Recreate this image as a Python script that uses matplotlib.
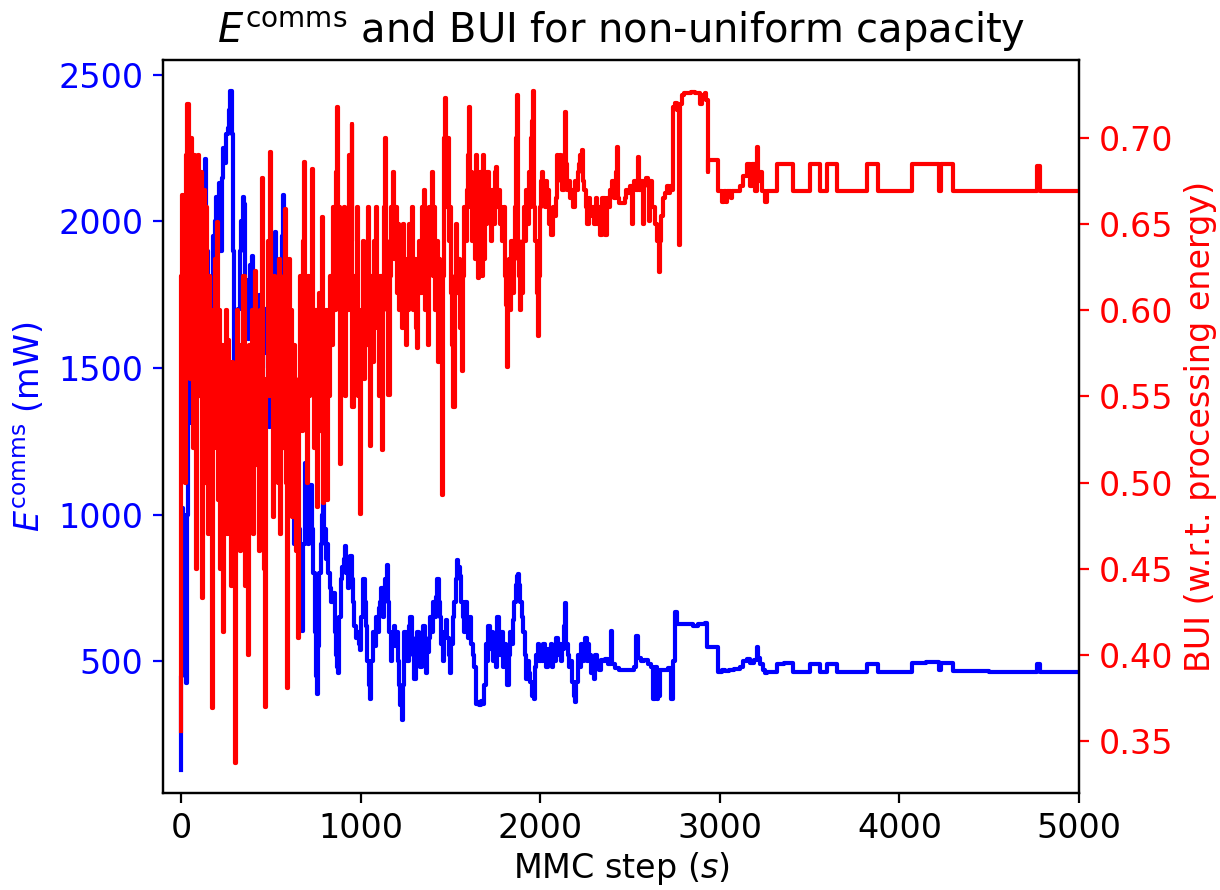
import matplotlib
matplotlib.use("Agg")
import matplotlib.pyplot as plt

# ---- data ----
bui_steps = [
    0, 3, 6, 12, 18, 24, 30, 36, 42, 48,
    54, 60, 66, 72, 78, 84, 90, 96, 102, 108,
    115, 122, 128, 134, 140, 146, 152, 158, 164, 171,
    178, 185, 192, 199, 206, 213, 220, 227, 235, 242,
    249, 256, 263, 270, 277, 284, 292, 301, 308, 314,
    320, 327, 334, 341, 348, 355, 362, 367, 373, 380,
    387, 394, 401, 408, 412, 420, 427, 434, 441, 449,
    455, 462, 468, 475, 482, 489, 496, 503, 510, 517,
    524, 531, 538, 545, 552, 559, 566, 573, 579, 585,
    588, 594, 600, 607, 614, 621, 628, 635, 642, 651,
    658, 665, 672, 679, 686, 693, 700, 707, 714, 720,
    727, 734, 741, 748, 755, 762, 769, 776, 783, 791,
    798, 805, 811, 818, 825, 832, 840, 848, 855, 862,
    867, 873, 880, 885, 892, 899, 906, 913, 920, 928,
    936, 943, 950, 955, 962, 970, 978, 985, 992, 997,
    1004, 1011, 1018, 1025, 1032, 1040, 1046, 1052, 1058, 1065,
    1072, 1079, 1086, 1093, 1100, 1108, 1117, 1124, 1130, 1136,
    1142, 1149, 1155, 1162, 1168, 1175, 1181, 1188, 1195, 1202,
    1209, 1216, 1223, 1230, 1237, 1244, 1251, 1258, 1265, 1272,
    1279, 1286, 1293, 1300, 1306, 1312, 1319, 1326, 1333, 1340,
    1347, 1354, 1361, 1368, 1375, 1382, 1389, 1396, 1403, 1410,
    1417, 1424, 1431, 1438, 1445, 1451, 1457, 1464, 1470, 1477,
    1484, 1491, 1498, 1505, 1511, 1516, 1523, 1530, 1537, 1544,
    1551, 1557, 1563, 1570, 1577, 1584, 1590, 1596, 1602, 1609,
    1616, 1623, 1630, 1637, 1644, 1650, 1654, 1660, 1667, 1674,
    1680, 1686, 1692, 1699, 1706, 1713, 1720, 1727, 1734, 1741,
    1748, 1755, 1762, 1769, 1776, 1783, 1790, 1797, 1804, 1810,
    1816, 1822, 1828, 1834, 1840, 1846, 1852, 1858, 1863, 1869,
    1875, 1881, 1887, 1893, 1899, 1905, 1911, 1917, 1923, 1929,
    1935, 1941, 1948, 1955, 1961, 1967, 1973, 1980, 1988, 1994,
    2000, 2006, 2012, 2018, 2025, 2032, 2040, 2048, 2056, 2063,
    2070, 2078, 2086, 2093, 2100, 2108, 2116, 2124, 2131, 2138,
    2145, 2152, 2160, 2168, 2176, 2184, 2192, 2200, 2208, 2216,
    2224, 2231, 2238, 2246, 2254, 2262, 2270, 2278, 2286, 2294,
    2302, 2310, 2318, 2326, 2334, 2345, 2361, 2370, 2380, 2390,
    2400, 2410, 2420, 2426, 2432, 2440, 2455, 2470, 2480, 2490,
    2500, 2509, 2515, 2525, 2535, 2545, 2552, 2560, 2570, 2578,
    2588, 2598, 2605, 2612, 2625, 2640, 2652, 2661, 2668, 2675,
    2685, 2695, 2705, 2715, 2725, 2735, 2741, 2750, 2760, 2768,
    2773, 2779, 2788, 2800, 2820, 2840, 2860, 2880, 2890, 2900,
    2915, 2925, 2930, 2932, 2935, 2990, 2992, 3015, 3022, 3035,
    3042, 3060, 3068, 3110, 3130, 3150, 3168, 3180, 3195, 3205,
    3215, 3225, 3235, 3250, 3262, 3317, 3410, 3502, 3560, 3595,
    3655, 3818, 3883, 4068, 4222, 4232, 4300, 4764, 4783, 5000,
]
bui_values = [
    0.356, 0.62, 0.667, 0.55, 0.66, 0.50, 0.69, 0.72, 0.68, 0.56,
    0.70, 0.66, 0.52, 0.69, 0.60, 0.45, 0.66, 0.69, 0.55, 0.68,
    0.433, 0.62, 0.67, 0.50, 0.66, 0.58, 0.47, 0.62, 0.56, 0.369,
    0.60, 0.52, 0.63, 0.651, 0.49, 0.60, 0.45, 0.58, 0.413, 0.55,
    0.60, 0.47, 0.583, 0.50, 0.44, 0.57, 0.48, 0.337, 0.52, 0.60,
    0.544, 0.46, 0.58, 0.50, 0.62, 0.44, 0.55, 0.48, 0.40, 0.58,
    0.52, 0.60, 0.47, 0.59, 0.623, 0.51, 0.58, 0.46, 0.60, 0.677,
    0.55, 0.45, 0.370, 0.56, 0.64, 0.55, 0.692, 0.58, 0.48, 0.62,
    0.53, 0.60, 0.50, 0.63, 0.47, 0.57, 0.52, 0.62, 0.659, 0.50,
    0.381, 0.55, 0.63, 0.52, 0.60, 0.48, 0.58, 0.54, 0.46, 0.41,
    0.56, 0.62, 0.53, 0.64, 0.686, 0.57, 0.50, 0.62, 0.55, 0.60,
    0.682, 0.58, 0.52, 0.60, 0.486, 0.56, 0.61, 0.53, 0.654, 0.488,
    0.57, 0.60, 0.49, 0.58, 0.55, 0.62, 0.58, 0.66, 0.60, 0.68,
    0.718, 0.62, 0.66, 0.511, 0.63, 0.59, 0.66, 0.55, 0.65, 0.60,
    0.69, 0.64, 0.708, 0.544, 0.62, 0.58, 0.66, 0.55, 0.60, 0.482,
    0.59, 0.64, 0.56, 0.63, 0.58, 0.66, 0.60, 0.521, 0.62, 0.57,
    0.64, 0.60, 0.66, 0.59, 0.55, 0.62, 0.519, 0.61, 0.66, 0.70,
    0.64, 0.60, 0.551, 0.62, 0.66, 0.64, 0.68, 0.63, 0.66, 0.61,
    0.65, 0.60, 0.64, 0.59, 0.65, 0.62, 0.58, 0.63, 0.60, 0.65,
    0.61, 0.66, 0.60, 0.63, 0.59, 0.578, 0.62, 0.64, 0.61, 0.66,
    0.62, 0.67, 0.60, 0.65, 0.58, 0.66, 0.64, 0.68, 0.62, 0.66,
    0.60, 0.64, 0.57, 0.63, 0.60, 0.493, 0.62, 0.70, 0.723, 0.66,
    0.70, 0.64, 0.66, 0.61, 0.58, 0.544, 0.62, 0.65, 0.61, 0.63,
    0.59, 0.61, 0.565, 0.62, 0.66, 0.64, 0.67, 0.69, 0.718, 0.66,
    0.68, 0.64, 0.67, 0.63, 0.69, 0.66, 0.619, 0.65, 0.68, 0.62,
    0.69, 0.63, 0.67, 0.65, 0.68, 0.66, 0.67, 0.64, 0.67, 0.65,
    0.68, 0.683, 0.66, 0.67, 0.65, 0.66, 0.64, 0.66, 0.62, 0.603,
    0.567, 0.61, 0.63, 0.60, 0.64, 0.61, 0.63, 0.66, 0.70, 0.725,
    0.64, 0.62, 0.60, 0.63, 0.61, 0.64, 0.66, 0.64, 0.67, 0.65,
    0.68, 0.66, 0.70, 0.71, 0.7275, 0.66, 0.64, 0.61, 0.585, 0.62,
    0.66, 0.675, 0.68, 0.67, 0.66, 0.675, 0.67, 0.65, 0.655, 0.644,
    0.66, 0.655, 0.665, 0.69, 0.688, 0.69, 0.675, 0.67, 0.69, 0.715,
    0.685, 0.67, 0.675, 0.665, 0.67, 0.66, 0.675, 0.67, 0.68, 0.685,
    0.69, 0.693, 0.675, 0.67, 0.66, 0.65, 0.665, 0.66, 0.655, 0.66,
    0.65, 0.665, 0.65, 0.66, 0.644, 0.665, 0.644, 0.665, 0.66, 0.67,
    0.675, 0.665, 0.68, 0.695, 0.665, 0.662, 0.662, 0.665, 0.67, 0.668,
    0.672, 0.65, 0.67, 0.675, 0.67, 0.689, 0.67, 0.675, 0.65, 0.675,
    0.677, 0.672, 0.652, 0.675, 0.66, 0.65, 0.64, 0.622, 0.64, 0.655,
    0.665, 0.668, 0.672, 0.668, 0.672, 0.67, 0.718, 0.7206, 0.716, 0.72,
    0.638, 0.72, 0.725, 0.726, 0.726, 0.727, 0.726, 0.726, 0.72, 0.725,
    0.726, 0.722, 0.722, 0.68, 0.687, 0.687, 0.669, 0.663, 0.669, 0.663,
    0.669, 0.665, 0.669, 0.672, 0.678, 0.685, 0.672, 0.685, 0.669, 0.695,
    0.675, 0.68, 0.669, 0.663, 0.669, 0.685, 0.669, 0.685, 0.669, 0.685,
    0.669, 0.685, 0.669, 0.685, 0.669, 0.685, 0.669, 0.684, 0.669, 0.669,
]

ecomms_steps = [
    0, 3, 8, 14, 20, 26, 32, 38, 44, 50,
    56, 62, 70, 78, 86, 94, 100, 108, 118, 126,
    134, 140, 148, 156, 164, 172, 180, 188, 196, 204,
    212, 220, 228, 236, 244, 252, 260, 268, 275, 282,
    288, 294, 300, 306, 312, 320, 328, 336, 344, 351,
    358, 365, 372, 380, 387, 394, 402, 410, 418, 426,
    434, 442, 450, 458, 466, 474, 482, 490, 498, 506,
    514, 523, 530, 538, 546, 554, 562, 568, 575, 582,
    590, 598, 606, 614, 622, 630, 638, 646, 654, 662,
    672, 680, 690, 697, 705, 713, 720, 728, 736, 744,
    750, 755, 762, 770, 778, 785, 791, 798, 805, 812,
    820, 828, 836, 847, 855, 862, 868, 875, 882, 890,
    898, 906, 913, 920, 928, 935, 942, 950, 958, 966,
    974, 982, 990, 997, 1004, 1014, 1022, 1030, 1038, 1046,
    1052, 1060, 1068, 1076, 1084, 1092, 1100, 1108, 1116, 1124,
    1132, 1138, 1145, 1152, 1160, 1168, 1176, 1184, 1192, 1200,
    1208, 1215, 1222, 1229, 1236, 1244, 1252, 1260, 1268, 1276,
    1284, 1292, 1300, 1308, 1316, 1324, 1332, 1340, 1348, 1356,
    1364, 1372, 1380, 1388, 1396, 1404, 1412, 1420, 1426, 1434,
    1442, 1450, 1458, 1466, 1474, 1482, 1490, 1498, 1506, 1514,
    1522, 1530, 1536, 1544, 1552, 1560, 1568, 1576, 1584, 1592,
    1600, 1608, 1616, 1624, 1632, 1640, 1650, 1660, 1670, 1680,
    1688, 1696, 1704, 1712, 1720, 1728, 1736, 1744, 1752, 1760,
    1768, 1776, 1784, 1792, 1800, 1808, 1816, 1824, 1832, 1840,
    1848, 1856, 1864, 1870, 1876, 1882, 1890, 1898, 1906, 1914,
    1922, 1930, 1938, 1946, 1955, 1963, 1970, 1978, 1986, 1994,
    2002, 2010, 2018, 2026, 2034, 2042, 2050, 2058, 2066, 2074,
    2082, 2090, 2098, 2106, 2114, 2122, 2130, 2138, 2146, 2154,
    2162, 2170, 2178, 2186, 2194, 2202, 2210, 2218, 2226, 2234,
    2242, 2250, 2258, 2266, 2274, 2282, 2290, 2298, 2306, 2314,
    2322, 2330, 2340, 2352, 2361, 2380, 2392, 2402, 2415, 2440,
    2470, 2500, 2520, 2535, 2545, 2560, 2580, 2600, 2615, 2630,
    2640, 2648, 2658, 2665, 2690, 2710, 2728, 2738, 2750, 2760,
    2800, 2850, 2880, 2917, 2930, 2990, 3010, 3030, 3050, 3080,
    3110, 3130, 3150, 3170, 3190, 3205, 3215, 3225, 3240, 3250,
    3262, 3317, 3360, 3410, 3495, 3502, 3560, 3595, 3655, 3818,
    3883, 4068, 4150, 4222, 4232, 4300, 4500, 4764, 4783, 5000,
]
ecomms_values = [
    130, 450, 1022, 1000, 524, 426, 1000, 1603, 1674, 1450,
    1312, 1425, 1350, 1600, 1500, 1800, 1650, 1900, 1700, 2100,
    2213, 1900, 1750, 1500, 1400, 1700, 1950, 2000, 2083, 2050,
    2130, 1900, 2150, 2250, 2200, 2300, 2320, 2380, 2446, 2300,
    1900, 1425, 1400, 1450, 1410, 1700, 1900, 2000, 2083, 2060,
    1800, 1700, 1600, 1750, 1850, 1882, 1700, 1550, 1450, 1600,
    1750, 1650, 1500, 1600, 1700, 1550, 1450, 1300, 1500, 1700,
    1850, 1964, 1700, 1500, 1600, 1750, 1950, 2092, 1900, 1600,
    1300, 1150, 1000, 1135, 1000, 900, 1050, 1100, 950, 800,
    603, 900, 1176, 1050, 900, 1000, 1100, 950, 800, 600,
    450, 387, 550, 800, 900, 1000, 1039, 950, 850, 900,
    800, 750, 700, 732, 600, 520, 480, 459, 650, 780,
    820, 850, 892, 800, 750, 820, 860, 780, 700, 620,
    580, 600, 560, 539, 650, 780, 700, 620, 500, 420,
    370, 500, 600, 550, 650, 600, 680, 700, 750, 650,
    720, 780, 828, 700, 600, 500, 560, 620, 550, 600,
    500, 420, 350, 299, 420, 600, 550, 500, 620, 650,
    580, 520, 440, 500, 600, 520, 480, 550, 620, 500,
    460, 530, 580, 650, 600, 700, 650, 720, 780, 700,
    650, 560, 500, 600, 640, 580, 520, 460, 560, 650,
    700, 780, 845, 820, 790, 700, 650, 600, 700, 620,
    580, 650, 560, 520, 480, 353, 360, 350, 365, 355,
    420, 560, 500, 620, 540, 600, 500, 570, 480, 650,
    560, 520, 600, 480, 560, 500, 420, 520, 600, 560,
    640, 700, 760, 790, 797, 760, 700, 650, 600, 520,
    440, 500, 460, 430, 380, 370, 480, 520, 560, 500,
    540, 500, 560, 520, 480, 540, 500, 560, 480, 520,
    500, 580, 520, 560, 500, 540, 620, 698, 560, 520,
    480, 500, 430, 380, 362, 430, 520, 480, 560, 500,
    540, 580, 500, 560, 520, 460, 500, 440, 520, 480,
    500, 470, 505, 500, 507, 490, 603, 490, 475, 470,
    468, 470, 480, 587, 510, 500, 505, 490, 480, 370,
    480, 370, 380, 470, 470, 475, 370, 500, 667, 627,
    625, 620, 625, 630, 548, 462, 468, 465, 470, 472,
    480, 500, 507, 495, 505, 548, 510, 490, 470, 460,
    462, 490, 495, 462, 462, 490, 462, 490, 462, 490,
    462, 495, 497, 470, 495, 465, 462, 490, 462, 462,
]

x_ticks = [0, 1000, 2000, 3000, 4000, 5000]
left_ticks = [500, 1000, 1500, 2000, 2500]
right_ticks = [0.35, 0.40, 0.45, 0.50, 0.55, 0.60, 0.65, 0.70]

# ---- figure ----
plt.rcParams["font.size"] = 12
W, H = 1220, 890
fig = plt.figure(figsize=(W / 200, H / 200), dpi=200)
ax1 = fig.add_axes([163 / W, 1 - 793 / H, (1079 - 163) / W, (793 - 60) / H])

ax1.plot(ecomms_steps, ecomms_values, color="blue", lw=1.5, drawstyle="steps-post")
ax1.set_xlim(-100, 5000)
ax1.set_ylim(50, 2551)
ax1.set_xticks(x_ticks)
ax1.set_yticks(left_ticks)
ax1.tick_params(axis="y", colors="blue")
ax1.set_xlabel("MMC step ($s$)", labelpad=1.5)
ax1.set_ylabel(r"$E^{\mathrm{comms}}$ (mW)", color="blue")

ax2 = ax1.twinx()
ax2.plot(bui_steps, bui_values, color="red", lw=1.5, drawstyle="steps-post")
ax2.set_ylim(0.3198, 0.7453)
ax2.set_yticks(right_ticks)
ax2.set_yticklabels([f"{t:.2f}" for t in right_ticks])
ax2.tick_params(axis="y", colors="red")
ax2.set_ylabel("BUI (w.r.t. processing energy)", color="red")

ax1.set_title(r"$E^{\mathrm{comms}}$ and BUI for non-uniform capacity")

fig.savefig("out.png", dpi=200)
